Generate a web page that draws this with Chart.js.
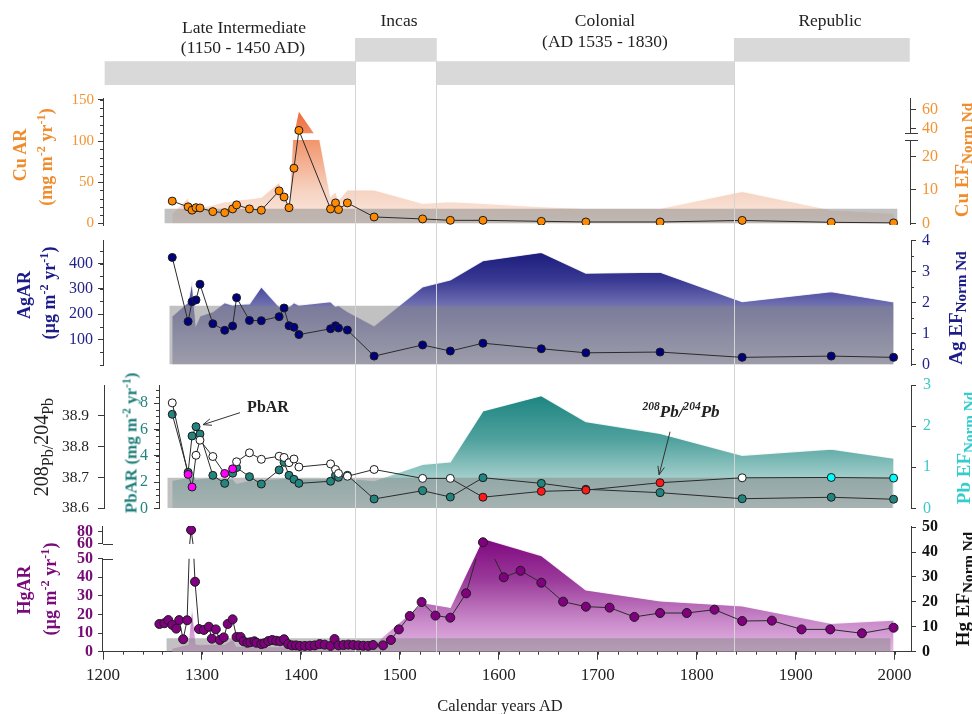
<!DOCTYPE html>
<html lang="en">
<head>
<meta charset="utf-8">
<title>Cu, Ag, Pb and Hg accumulation, AD 1200–2000</title>
<script src="https://cdn.jsdelivr.net/npm/chart.js@4.4.1/dist/chart.umd.min.js"></script>
<style>
  html, body { margin: 0; padding: 0; background: #fff; }
  #fig { position: relative; width: 972px; height: 714px; overflow: hidden;
         font-family: 'Liberation Serif', 'Times New Roman', serif; color: #222; }
  #fig canvas { position: absolute; left: 0; }
  .t { position: absolute; white-space: nowrap; line-height: 1; transform: translate(-50%, -50%); z-index: 3; }
  .v { transform: translate(-50%, -50%) rotate(-90deg); }
  .t sup { font-size: 68%; vertical-align: 0.55em; line-height: 0; }
  .t sub { font-size: 80%; vertical-align: -0.32em; line-height: 0; }
  .hd { font-size: 17.5px; color: #222; }
  .ttl { font-size: 18px; font-weight: bold; }
  .rt { font-size: 19px; font-weight: bold; }
</style>
</head>
<body>
<div id="fig">
  <canvas id="cHead" width="972" height="714" style="top:0;z-index:0"></canvas>
  <canvas id="cCu" width="972" height="170" style="top:78px;z-index:1"></canvas>
  <canvas id="cAg" width="972" height="165" style="top:220px;z-index:1"></canvas>
  <canvas id="cPb" width="972" height="165" style="top:365px;z-index:1"></canvas>
  <canvas id="cHg" width="972" height="208" style="top:506px;z-index:1"></canvas>

  <!-- period header -->
  <div class="t hd" style="left:244px;top:28px">Late Intermediate</div>
  <div class="t hd" style="left:243px;top:48px">(1150 - 1450 AD)</div>
  <div class="t hd" style="left:399px;top:21px">Incas</div>
  <div class="t hd" style="left:605px;top:21px">Colonial</div>
  <div class="t hd" style="left:605px;top:42px">(AD 1535 - 1830)</div>
  <div class="t hd" style="left:830px;top:21px">Republic</div>

  <!-- left axis titles -->
  <div class="t v ttl" style="left:20px;top:155px;color:#f08c2c">Cu AR</div>
  <div class="t v ttl" style="left:46px;top:157px;color:#f08c2c">(mg m<sup>-2</sup> yr<sup>-1</sup>)</div>
  <div class="t v ttl" style="left:24px;top:295px;color:#1c1c88">AgAR</div>
  <div class="t v ttl" style="left:49px;top:293px;color:#1c1c88">(µg m<sup>-2</sup> yr<sup>-1</sup>)</div>
  <div class="t v" style="left:41px;top:447px;font-size:20px;color:#222">208<sub>Pb/</sub>204<sub>Pb</sub></div>
  <div class="t v ttl" style="left:131px;top:443px;font-size:17px;color:#1f7f7a">PbAR (mg m<sup>-2</sup> yr<sup>-1</sup>)</div>
  <div class="t v ttl" style="left:24px;top:590px;color:#7a0a7a">HgAR</div>
  <div class="t v ttl" style="left:50px;top:589px;color:#7a0a7a">(µg m<sup>-2</sup> yr<sup>-1</sup>)</div>

  <!-- right axis titles -->
  <div class="t v rt" style="left:961px;top:160px;color:#f08c2c">Cu EF<sub>Norm Nd</sub></div>
  <div class="t v rt" style="left:955px;top:308px;color:#1c1c88">Ag EF<sub>Norm Nd</sub></div>
  <div class="t v rt" style="left:963px;top:448px;color:#35cccc">Pb EF<sub>Norm Nd</sub></div>
  <div class="t v rt" style="left:962px;top:589px;color:#111">Hg EF<sub>Norm Nd</sub></div>

  <!-- annotations -->
  <div class="t" style="left:268px;top:407px;font-size:16px;font-weight:bold">PbAR</div>
  <div class="t" style="left:681px;top:411px;font-size:17px;font-weight:bold;font-style:italic"><sup>208</sup>Pb/<sup>204</sup>Pb</div>

  <div class="t" style="left:500px;top:706px;font-size:16.5px">Calendar years AD</div>
</div>

<script>
// ---------------- data ----------------
// core sample ages shared by the Cu, Ag, Pb and enrichment-factor records
const sampleYears = [1270, 1286, 1290, 1294, 1298, 1311, 1323, 1331, 1335, 1348, 1360, 1378, 1383, 1388, 1393,
                     1398, 1430, 1435, 1438, 1447, 1474, 1523, 1551, 1584, 1643, 1688, 1763, 1846, 1936, 1999];

const cuAR = [27, 20, 16, 19, 18.7, 14.2, 13, 17.5, 22.4, 17.5, 15.9, 39.4, 32, 19, 67,
              113, 17.5, 24.8, 16.7, 24.8, 7.7, 5.3, 3.6, 3.6, 2.4, 1.6, 1.6, 3.5, 1.2, 0.5];
const cuEF = [3.0, 7.7, 3.5, 4.5, 4.8, 5.5, 6.5, 6.5, 7.0, 7.3, 7.8, 12.3, 8.5, 5.5, 32.6,
              58, 8, 9.5, 7, 10, 10, 6, 6.5, 6, 5, 4.5, 4.5, 9.6, 4, 3];

const agAR = [424, 171, 249, 256, 318, 162, 136, 153, 265, 175, 174, 190, 224, 154, 148,
              119, 142, 154, 145, 137, 34, 78, 54, 85, 63, 47, 50, 29, 34, 29];
const agEF = [1.56, 2.0, 2.67, 1.27, 1.56, 1.70, 1.99, 1.91, 1.93, 1.95, 2.50, 1.86, 1.73, 1.85, 1.99,
              1.91, 2.02, 1.86, 1.90, 1.70, 1.24, 2.50, 2.72, 3.34, 3.61, 2.94, 2.97, 2.02, 2.34, 2.01];

const pbAR = [7.16, 2.74, 5.51, 6.22, 5.66, 2.51, 1.90, 2.67, 3.1, 2.41, 1.85, 2.92, 3.50, 2.51, 2.21,
              1.90, 2.06, 2.51, 2.36, 2.51, 0.71, 1.34, 0.86, 2.33, 1.90, 1.45, 1.19, 0.73, 0.84, 0.69];
const pbRatio = [38.942, 38.710, 38.669, 38.772, 38.821, 38.768, 38.713, 38.728, 38.751, 38.780,
                 38.759, 38.769, 38.765, 38.748, 38.760, 38.734, 38.744, 38.726, 38.713, 38.704,
                 38.726, 38.697, 38.697, 38.636, 38.655, 38.659, 38.683, 38.699, 38.700, 38.698];
// isotope source group of each ratio sample (w: other, m: pre-Inca, r: colonial, c: modern)
const ratioGroup = ['w', 'm', 'm', 'w', 'w', 'w', 'm', 'm', 'w', 'w', 'w', 'w', 'w', 'w', 'w',
                    'w', 'w', 'w', 'w', 'w', 'w', 'w', 'w', 'r', 'r', 'r', 'r', 'w', 'c', 'c'];
const pbEF = [0.68, 0.75, 0.95, 0.70, 0.72, 0.75, 0.70, 0.72, 0.61, 0.68, 0.70, 0.72, 0.74, 0.72, 0.70,
              0.72, 0.72, 0.73, 0.74, 0.73, 0.67, 1.07, 1.13, 2.37, 2.74, 2.11, 1.82, 1.29, 1.44, 1.22];

const hgEF = [1.4, 3.0, 18.4, 3.1, 2.8, 3.0, 3.0, 5.0, 2.2, 2.0, 2.0, 2.0, 2.0, 2.0, 2.0,
              2.0, 2.0, 2.0, 2.0, 2.0, 3.0, 19.7, 17.8, 45.5, 38.6, 24.8, 20.4, 18.4, 11.4, 12.7];

// mercury record has its own, denser sampling
const hgYears = [1257, 1262, 1266, 1270, 1274, 1277, 1281, 1285, 1289, 1293, 1297, 1302, 1307, 1310, 1314,
                 1318, 1322, 1326, 1331, 1335, 1339, 1342, 1346, 1349, 1353, 1355, 1360, 1363, 1367, 1371,
                 1375, 1379, 1383, 1387, 1391, 1395, 1399, 1404, 1409, 1414, 1419, 1424, 1430, 1434, 1438,
                 1443, 1448, 1453, 1458, 1463, 1468, 1473, 1483, 1491, 1499, 1510, 1522, 1536, 1551, 1567,
                 1584, 1605, 1622, 1643, 1665, 1688, 1712, 1737, 1763, 1790, 1818, 1846, 1876, 1906, 1935,
                 1967, 1999];
const hgAR = [14.9, 15.3, 17.0, 14.4, 12.4, 17.0, 6.7, 16.9, 82.7, 37.6, 12.2, 11.7, 13.4, 7.0, 12.0,
              6.3, 7.7, 14.9, 17.4, 7.9, 7.9, 5.6, 4.8, 5.1, 5.6, 4.8, 4.1, 4.5, 5.7, 6.3,
              5.9, 5.6, 6.7, 4.1, 3.4, 3.4, 3.1, 3.1, 3.2, 3.4, 4.1, 3.8, 3.1, 6.8, 3.4,
              3.6, 3.8, 3.6, 3.4, 3.2, 3.1, 3.6, 3.4, 6.3, 12.0, 19.2, 26.7, 19.4, 18.3, 31.4,
              62.8, 40.0, 43.5, 37.1, 26.9, 24.2, 23.7, 18.7, 20.8, 20.8, 22.6, 16.5, 16.7, 12.0, 12.0,
              9.9, 12.9];

// natural background band (EF range) behind each record
const bandCu = { from: 1262, to: 2003, top: 4.4 };
const bandAg = { from: 1267, to: 1999, top: 1.89 };
const bandPb = { from: 1265, to: 1998, top: 0.745 };
const bandHg = { from: 1264, to: 1996, top: 5.4 };

// cultural periods
const periods = ['Late Intermediate', 'Incas', 'Colonial', 'Republic'];
const periodStart = [1202, 1455, 1537, 1838];
const periodEnd = [1455, 1537, 1838, 2015];
const periodRow = ['lower', 'upper', 'lower', 'upper'];

// tick values
const xTicks = [1200, 1300, 1400, 1500, 1600, 1700, 1800, 1900, 2000];
const cuARTicks = [0, 50, 100, 150];
const cuEFLowTicks = [0, 10, 20];
const cuEFHighTicks = [40, 60];
const agARTicks = [100, 200, 300, 400];
const agEFTicks = [0, 1, 2, 3, 4];
const ratioTicks = [38.6, 38.7, 38.8, 38.9];
const pbARTicks = [0, 2, 4, 6, 8];
const pbEFTicks = [0, 1, 2, 3];
const hgLowTicks = [0, 10, 20, 30, 40, 50];
const hgHighTicks = [60, 80];
const hgEFTicks = [0, 10, 20, 30, 40, 50];

// axis breaks: [top of lower segment, bottom of upper segment]
const CU_BREAK = [25, 34.5];
const HG_BREAK = [50, 60];

// ---------------- layout / style ----------------
const X_MIN = 1200, X_MAX = 2016.6, AREA_L = 103, AREA_R = 911, W = 972;
const LINE_BOTTOM = 652;
const AX = '#3a3a3a';
const LINE = '#2b2b2b';
const BAND = 'rgba(132,132,132,0.5)';
const PERIOD_LINE = '#d4d4d4';
const RATIO_COLORS = { w: '#ffffff', m: '#ff00ff', r: '#ff1a1a', c: '#00ffff' };

Chart.defaults.font.family = "'Liberation Serif', 'Times New Roman', serif";
Chart.defaults.font.size = 16;
Chart.defaults.elements.line.tension = 0;

const pts = (xs, ys) => xs.map((x, i) => ({ x, y: ys[i] }));
const bandPts = b => [{ x: b.from, y: b.top }, { x: b.to, y: b.top }];
const pxPerYear = (AREA_R - AREA_L) / (X_MAX - X_MIN);

// clip datasets drawn on one segment of a broken axis (area fill included,
// so this is registered ahead of the Filler plugin)
const brokenClip = {
  id: 'brokenClip',
  beforeDatasetDraw(chart, args) {
    const ds = chart.data.datasets[args.index];
    if (!ds.brk) return;
    const y = chart.scales[ds.brk.axis].getPixelForValue(ds.brk.at);
    const ctx = chart.ctx;
    ctx.save();
    ctx.beginPath();
    if (ds.brk.keep === 'below') ctx.rect(0, y, chart.width, chart.height - y);
    else ctx.rect(0, 0, chart.width, y);
    ctx.clip();
  },
  afterDatasetDraw(chart, args) {
    if (chart.data.datasets[args.index].brk) chart.ctx.restore();
  }
};
Chart.unregister(Chart.Filler);
Chart.register(brokenClip, Chart.Filler);

function hiddenX(min) {
  return { type: 'linear', min: min, max: X_MAX, display: false };
}

function yAxis(o) {
  return {
    type: 'linear', position: o.pos, min: o.min, max: o.max, weight: o.weight || 0,
    border: { display: o.border !== false, color: AX, width: 1 },
    grid: { drawOnChartArea: false, drawTicks: true, tickLength: o.tl || 5, color: AX },
    ticks: { color: o.color, padding: o.pad == null ? 5 : o.pad,
             font: { size: o.size || 16, weight: o.bold ? 'bold' : 'normal' },
             callback: o.fmt || (v => String(v)) },
    afterBuildTicks: s => { s.ticks = o.ticks.map(v => ({ value: v })); },
    afterFit: s => { s.width = o.w; }
  };
}

// the two segments of a broken axis share one horizontal box
function shareAxisBox(from, to) {
  return {
    id: 'shareAxisBox',
    afterLayout(chart) {
      const a = chart.scales[from], b = chart.scales[to];
      b.left = a.left; b.right = a.right; b.width = a.width;
    }
  };
}

function grad(axis, stops) {
  return (c) => {
    const ch = c.chart, s = ch.scales[axis];
    if (!ch.chartArea || !s) return stops[stops.length - 1][1];
    const y0 = s.getPixelForValue(stops[0][0]);
    const y1 = s.getPixelForValue(stops[stops.length - 1][0]);
    const g = ch.ctx.createLinearGradient(0, y0, 0, y1);
    for (const [v, col] of stops) {
      const f = (s.getPixelForValue(v) - y0) / (y1 - y0);
      g.addColorStop(Math.min(1, Math.max(0, f)), col);
    }
    return g;
  };
}

function panelOptions(pad, scales) {
  return {
    responsive: false, animation: false, events: [],
    layout: { padding: pad },
    plugins: { legend: { display: false }, tooltip: { enabled: false } },
    scales: scales
  };
}

// period boundaries drawn over the enrichment areas, under the sample markers
const periodLines = {
  id: 'periodLines',
  afterDatasetDraw(chart, args) {
    if (!chart.data.datasets[args.index].band) return;
    const { ctx, chartArea: a, scales: { x } } = chart;
    ctx.save();
    ctx.strokeStyle = PERIOD_LINE; ctx.lineWidth = 1;
    for (const yr of periodStart.slice(1)) {
      const px = Math.round(x.getPixelForValue(yr)) + 0.5;
      ctx.beginPath(); ctx.moveTo(px, a.top - 20); ctx.lineTo(px, a.bottom); ctx.stroke();
    }
    ctx.restore();
  }
};

function minorTicks(list) {
  return {
    id: 'minorTicks',
    afterDraw(chart) {
      const ctx = chart.ctx;
      ctx.save(); ctx.strokeStyle = AX; ctx.lineWidth = 1;
      for (const m of list) {
        const s = chart.scales[m.axis];
        const n = Math.round((m.to - m.from) / m.step);
        for (let k = 0; k <= n; k++) {
          const v = m.from + k * m.step;
          const p = Math.round(s.getPixelForValue(v)) + 0.5;
          ctx.beginPath();
          if (s.isHorizontal()) { ctx.moveTo(p, s.top); ctx.lineTo(p, s.top + m.len); }
          else if (s.position === 'left') { ctx.moveTo(s.right, p); ctx.lineTo(s.right - m.len, p); }
          else { ctx.moveTo(s.left, p); ctx.lineTo(s.left + m.len, p); }
          ctx.stroke();
        }
      }
      ctx.restore();
    }
  };
}

function brokenAxis(o) {
  return {
    id: 'brokenAxis',
    afterDraw(chart) {
      const { ctx, chartArea: a } = chart;
      const lo = chart.scales[o.lo], hi = chart.scales[o.hi];
      const x = o.side === 'left' ? a.left : a.right;
      const px = Math.round(x) - 0.5;
      const yLo = lo.getPixelForValue(o.at[0]), yHi = hi.getPixelForValue(o.at[1]);
      ctx.save(); ctx.strokeStyle = AX; ctx.lineWidth = 1;
      ctx.beginPath();
      ctx.moveTo(px, a.bottom); ctx.lineTo(px, yLo);
      ctx.moveTo(px, yHi); ctx.lineTo(px, a.top);
      ctx.stroke();
      ctx.beginPath();
      for (const y of [yLo, yHi]) {
        const py = Math.round(y) + 0.5;
        ctx.moveTo(x + o.mark[0], py); ctx.lineTo(x + o.mark[1], py);
      }
      ctx.stroke();
      ctx.restore();
    }
  };
}

function drawArrow(ctx, x0, y0, x1, y1) {
  const a = Math.atan2(y1 - y0, x1 - x0), h = 9, s = 0.38;
  ctx.beginPath();
  ctx.moveTo(x0, y0); ctx.lineTo(x1, y1);
  ctx.moveTo(x1 - h * Math.cos(a - s), y1 - h * Math.sin(a - s));
  ctx.lineTo(x1, y1);
  ctx.lineTo(x1 - h * Math.cos(a + s), y1 - h * Math.sin(a + s));
  ctx.stroke();
}

const markerLine = (axis, data, fill, r) => ({
  data: data, yAxisID: axis, borderColor: LINE, borderWidth: 1, fill: false,
  pointRadius: r == null ? 4 : r, pointBackgroundColor: fill, pointBorderColor: '#1a1a1a', pointBorderWidth: 1
});

// ---------------- period header ----------------
const headLines = {
  id: 'headLines',
  afterDatasetsDraw(chart) {
    const { ctx, chartArea: a, scales: { x } } = chart;
    const yMid = (a.top + a.bottom) / 2;
    ctx.save(); ctx.strokeStyle = PERIOD_LINE; ctx.lineWidth = 1;
    for (const yr of periodStart.slice(1)) {
      const px = Math.round(x.getPixelForValue(yr)) + 0.5;
      ctx.beginPath(); ctx.moveTo(px, yMid); ctx.lineTo(px, LINE_BOTTOM); ctx.stroke();
    }
    ctx.restore();
  }
};

new Chart(document.getElementById('cHead'), {
  type: 'bar',
  data: {
    labels: ['upper', 'lower'],
    datasets: periods.map((p, i) => ({
      label: p,
      data: periodRow[i] === 'upper' ? [[periodStart[i], periodEnd[i]], null] : [null, [periodStart[i], periodEnd[i]]],
      backgroundColor: '#d9d9d9', borderWidth: 0, grouped: false,
      barPercentage: 1, categoryPercentage: 1
    }))
  },
  options: {
    indexAxis: 'y', responsive: false, animation: false, events: [],
    layout: { padding: { left: AREA_L, right: W - AREA_R, top: 38, bottom: 714 - 85 } },
    plugins: { legend: { display: false }, tooltip: { enabled: false } },
    scales: { x: { type: 'linear', min: X_MIN, max: X_MAX, display: false }, y: { display: false } }
  },
  plugins: [headLines]
});

// ---------------- Cu ----------------
const cuGrad = [[34, 'rgb(238,104,54)'], [24.5, 'rgb(242,150,110)'], [10, 'rgb(246,210,192)'], [0, 'rgb(250,234,226)']];
new Chart(document.getElementById('cCu'), {
  type: 'line',
  data: {
    datasets: [
      { label: 'Cu EF', data: pts(sampleYears, cuEF), yAxisID: 'cuLo', fill: 'origin',
        backgroundColor: grad('cuLo', cuGrad), borderColor: 'rgba(255,255,255,0.85)', borderWidth: 1.2,
        pointRadius: 0, order: 3, clip: false, brk: { axis: 'cuLo', at: CU_BREAK[0], keep: 'below' } },
      { label: 'Cu EF', data: pts(sampleYears, cuEF), yAxisID: 'cuHi', fill: 'origin',
        backgroundColor: grad('cuLo', cuGrad), borderWidth: 0,
        pointRadius: 0, order: 3, clip: false, brk: { axis: 'cuHi', at: CU_BREAK[1], keep: 'above' } },
      { label: 'background', data: bandPts(bandCu), yAxisID: 'cuLo', fill: 'origin', backgroundColor: BAND,
        borderWidth: 0, pointRadius: 0, order: 2, band: true },
      Object.assign({ label: 'Cu AR', order: 1 }, markerLine('cuAR', pts(sampleYears, cuAR), '#ff8a00'))
    ]
  },
  options: panelOptions({ top: 20, bottom: 23, left: 0, right: 0 }, {
    x: hiddenX(X_MIN),
    cuAR: yAxis({ pos: 'left', min: -2.07, max: 152.4, ticks: cuARTicks, w: AREA_L, color: '#f39433', size: 15, pad: 4 }),
    cuLo: yAxis({ pos: 'right', weight: 0, min: -0.51, max: 37.59, ticks: cuEFLowTicks, w: W - AREA_R, color: '#f39433', border: false, pad: 6 }),
    cuHi: yAxis({ pos: 'right', weight: 1, min: -65.45, max: 73.04, ticks: cuEFHighTicks, w: 0, color: '#f39433', border: false, pad: 6 })
  }),
  plugins: [shareAxisBox('cuLo', 'cuHi'), periodLines,
    minorTicks([{ axis: 'cuAR', from: 0, to: 150, step: 10, len: 3 }]),
    brokenAxis({ lo: 'cuLo', hi: 'cuHi', at: CU_BREAK, side: 'right', mark: [-6, 7] })]
});

// ---------------- Ag ----------------
new Chart(document.getElementById('cAg'), {
  type: 'line',
  data: {
    datasets: [
      { label: 'Ag EF', data: pts(sampleYears, agEF), yAxisID: 'agEF', fill: 'origin',
        backgroundColor: grad('agEF', [[3.7, 'rgb(24,24,122)'], [2.7, 'rgb(58,58,148)'], [1.9, 'rgb(112,112,178)'], [0, 'rgb(182,182,210)']]),
        borderColor: 'rgba(255,255,255,0.85)', borderWidth: 1.2, pointRadius: 0, order: 3 },
      { label: 'background', data: bandPts(bandAg), yAxisID: 'agEF', fill: 'origin', backgroundColor: BAND,
        borderWidth: 0, pointRadius: 0, order: 2, band: true },
      Object.assign({ label: 'Ag AR', order: 1 }, markerLine('agAR', pts(sampleYears, agAR), '#00007f'))
    ]
  },
  options: panelOptions({ top: 20, bottom: 20, left: 0, right: 0 }, {
    x: hiddenX(X_MIN),
    agAR: yAxis({ pos: 'left', min: -1.19, max: 492.9, ticks: agARTicks, w: AREA_L, color: '#22228a', pad: 5 }),
    agEF: yAxis({ pos: 'right', min: -0.0226, max: 4.0097, ticks: agEFTicks, w: W - AREA_R, color: '#22228a', pad: 6 })
  }),
  plugins: [periodLines,
    minorTicks([{ axis: 'agAR', from: 0, to: 450, step: 50, len: 3 },
                { axis: 'agEF', from: 0.5, to: 3.5, step: 1, len: 3 }])]
});

// ---------------- Pb ----------------
const PB_X_MIN = X_MIN + (159 - AREA_L) / pxPerYear;
const pbNotes = {
  id: 'pbNotes',
  afterDatasetsDraw(chart) {
    const { ctx, scales } = chart;
    const x = scales.x;
    ctx.save(); ctx.strokeStyle = '#333'; ctx.lineWidth = 1;
    const i = 3;
    const px = x.getPixelForValue(sampleYears[i]), py = scales.pbAR.getPixelForValue(pbAR[i]);
    drawArrow(ctx, px + 44, py - 14, px + 7, py - 2);
    const j = 26;
    const qx = x.getPixelForValue(sampleYears[j]), qy = scales.ratio.getPixelForValue(pbRatio[j]);
    drawArrow(ctx, qx + 10, qy - 51, qx - 1, qy - 8);
    ctx.restore();
  }
};
new Chart(document.getElementById('cPb'), {
  type: 'line',
  data: {
    datasets: [
      { label: 'Pb EF', data: pts(sampleYears, pbEF), yAxisID: 'pbEF', fill: 'origin',
        backgroundColor: grad('pbEF', [[2.76, 'rgb(28,132,128)'], [1.66, 'rgb(80,162,158)'], [0.74, 'rgb(162,206,203)'], [0, 'rgb(200,226,224)']]),
        borderColor: 'rgba(255,255,255,0.85)', borderWidth: 1.2, pointRadius: 0, order: 4 },
      { label: 'background', data: bandPts(bandPb), yAxisID: 'pbEF', fill: 'origin', backgroundColor: BAND,
        borderWidth: 0, pointRadius: 0, order: 3, band: true },
      Object.assign({ label: 'PbAR', order: 2 }, markerLine('pbAR', pts(sampleYears, pbAR), '#23857f')),
      Object.assign({ label: '208Pb/204Pb', order: 1 },
        markerLine('ratio', pts(sampleYears, pbRatio), ratioGroup.map(g => RATIO_COLORS[g])))
    ]
  },
  options: panelOptions({ top: 20, bottom: 21.7, left: 0, right: 0 }, {
    x: hiddenX(PB_X_MIN),
    ratio: yAxis({ pos: 'left', weight: 1, min: 38.6, max: 39.0, ticks: ratioTicks, w: 104, color: '#222',
                   size: 15.5, tl: 6, pad: 9, fmt: v => v.toFixed(1) }),
    pbAR: yAxis({ pos: 'left', weight: 0, min: 0, max: 9.394, ticks: pbARTicks, w: 159 - 104, color: '#23857f', pad: 6 }),
    pbEF: yAxis({ pos: 'right', min: 0, max: 3.0, ticks: pbEFTicks, w: W - AREA_R, color: '#3cc8c8', pad: 7 })
  }),
  plugins: [periodLines, pbNotes,
    minorTicks([{ axis: 'pbAR', from: 0, to: 9, step: 0.5, len: 3 }])]
});

// ---------------- Hg ----------------
new Chart(document.getElementById('cHg'), {
  type: 'line',
  data: {
    datasets: [
      { label: 'Hg EF', data: pts(sampleYears, hgEF), yAxisID: 'hgEF', fill: 'origin',
        backgroundColor: grad('hgEF', [[45, 'rgb(128,8,128)'], [29, 'rgb(154,58,154)'], [12.7, 'rgb(200,136,200)'], [0, 'rgb(228,184,228)']]),
        borderColor: 'rgba(255,255,255,0.85)', borderWidth: 1.2, pointRadius: 0, order: 3 },
      { label: 'background', data: bandPts(bandHg), yAxisID: 'hgEF', fill: 'origin', backgroundColor: BAND,
        borderWidth: 0, pointRadius: 0, order: 2, band: true },
      Object.assign({ label: 'HgAR', order: 1, clip: false, brk: { axis: 'hgLo', at: HG_BREAK[0], keep: 'below' } },
        markerLine('hgLo', pts(hgYears, hgAR), '#800080', 4.5)),
      Object.assign({ label: 'HgAR', order: 1, clip: false, brk: { axis: 'hgHi', at: HG_BREAK[1], keep: 'above' } },
        markerLine('hgHi', pts(hgYears, hgAR), '#800080', 0)),
      Object.assign({ label: 'HgAR', order: 0, showLine: false },
        markerLine('hgHi', pts(hgYears, hgAR).filter(p => p.y > HG_BREAK[0]), '#800080', 4.5))
    ]
  },
  options: panelOptions({ top: 20, bottom: 0, left: 0, right: 0 }, {
    x: {
      type: 'linear', min: X_MIN, max: X_MAX, position: 'bottom',
      border: { display: true, color: AX, width: 1 },
      grid: { drawOnChartArea: false, drawTicks: true, tickLength: 8, color: AX },
      ticks: { color: '#222', font: { size: 17 }, padding: 6, maxRotation: 0, callback: v => String(v) },
      afterBuildTicks: s => { s.ticks = xTicks.map(v => ({ value: v })); },
      afterFit: s => { s.height = 714 - LINE_BOTTOM + 0.3; }
    },
    hgHi: yAxis({ pos: 'left', weight: 1, min: -114.55, max: 89.17, ticks: hgHighTicks, w: AREA_L, color: '#760a76', bold: true, border: false, pad: 5 }),
    hgLo: yAxis({ pos: 'left', weight: 0, min: 0, max: 67.58, ticks: hgLowTicks, w: 0, color: '#760a76', bold: true, border: false, pad: 5 }),
    hgEF: yAxis({ pos: 'right', min: 0, max: 50.48, ticks: hgEFTicks, w: W - AREA_R, color: '#111', bold: true, pad: 6 })
  }),
  plugins: [shareAxisBox('hgHi', 'hgLo'), periodLines,
    minorTicks([{ axis: 'x', from: 1200, to: 2000, step: 20, len: 3 }]),
    brokenAxis({ lo: 'hgLo', hi: 'hgHi', at: HG_BREAK, side: 'left', mark: [0, 10] })]
});
</script>
</body>
</html>
